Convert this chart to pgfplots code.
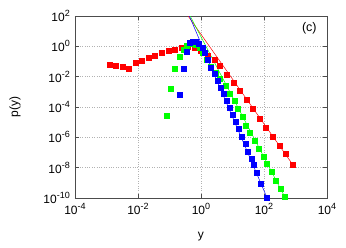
\documentclass[border=0pt]{standalone}
\usepackage{pgfplots}
\pgfplotsset{compat=1.18}
\usepackage{fontspec}
\setmainfont{Liberation Sans}
\newcommand\sep[1]{\raisebox{0.42em}{\fontsize{9}{10}\selectfont #1}}
\begin{document}
\fontsize{12}{14}\selectfont
\begin{tikzpicture}
\begin{axis}[
  scale only axis, width=252pt, height=182pt,
  xmode=log, ymode=log,
  xmin=1e-4, xmax=1e4, ymin=1e-10, ymax=1e2,
  xtick={1e-4,1e-2,1,1e2,1e4},
  xticklabels={10\sep{-4},10\sep{-2},10\sep{0},10\sep{2},10\sep{4}},
  ytick={1e-10,1e-8,1e-6,1e-4,1e-2,1,1e2},
  yticklabels={10\sep{-10},10\sep{-8},10\sep{-6},10\sep{-4},10\sep{-2},10\sep{0},10\sep{2}},
  minor xtick={}, minor ytick={},
  tick align=inside, major tick length=4pt,
  grid=major, major grid style={dotted, gray!60, line width=0.6pt},
  axis line style={black!70, line width=0.7pt}, every tick/.style={black!70, line width=0.6pt},
  xticklabel style={yshift=-1pt},
  yticklabel style={xshift=-1pt},
  xlabel={y}, ylabel={p(y)},
  xlabel style={at={(axis description cs:0.5,-0.21)}, anchor=center},
  ylabel style={at={(axis description cs:-0.238,0.5)}, anchor=center},
  clip=true,
]
% fitted power laws
\addplot[red, line width=0.5pt] coordinates {(0.389,100) (812.8,1.62e-8)};
\addplot[green, line width=0.5pt] coordinates {(0.452,100) (457.1,1.17e-10)};
\addplot[blue, line width=0.5pt] coordinates {(0.427,100) (123.0,1.12e-10)};
% red data
\addplot[only marks, mark=square*, mark size=2.5pt, red, mark options={draw=none, fill=red}] coordinates {
(1.23e-3,6.46e-2) (2.00e-3,5.01e-2) (3.16e-3,4.27e-2) (5.13e-3,3.31e-2)
(8.51e-3,8.71e-2) (1.35e-2,1.12e-1) (2.19e-2,1.78e-1) (3.47e-2,2.57e-1)
(5.62e-2,3.63e-1) (9.12e-2,5.13e-1) (1.48e-1,6.31e-1) (2.40e-1,7.94e-1)
(3.80e-1,8.91e-1) (6.17e-1,7.59e-1) (1.0,5.01e-1) (1.62,2.51e-1)
(2.63,1.26e-1) (4.07,5.01e-2) (6.76,1.41e-2) (10.96,4.17e-3)
(17.38,1.12e-3) (28.18,2.95e-4) (44.67,7.24e-5) (72.44,1.74e-5)
(114.8,4.47e-6) (190.5,1.10e-6) (309.0,3.02e-7) (501.2,7.76e-8) (812.8,1.62e-8)
};
% green data
\addplot[only marks, mark=square*, mark size=2.5pt, green, mark options={draw=none, fill=green}] coordinates {
(8.13e-2,2.63e-5) (1.12e-1,1.70e-3) (1.48e-1,3.16e-2) (2.04e-1,2.04e-1)
(2.75e-1,6.31e-1) (3.55e-1,1.12) (4.79e-1,1.41) (6.61e-1,1.32)
(8.91e-1,7.94e-1) (1.17,3.55e-1) (1.55,1.26e-1) (2.09,4.47e-2)
(2.88,1.78e-2) (3.98,6.92e-3) (6.03,2.40e-3) (8.32,7.94e-4)
(11.75,2.45e-4) (14.79,7.24e-5) (20.89,2.24e-5) (26.92,6.31e-6)
(36.31,1.95e-6) (50.12,6.46e-7) (67.61,1.82e-7) (95.50,5.13e-8)
(125.9,1.86e-8) (177.8,5.25e-9) (239.9,1.48e-9) (338.8,4.17e-10) (457.1,1.17e-10)
};
% blue data
\addplot[only marks, mark=square*, mark size=2.5pt, blue, mark options={draw=none, fill=blue}] coordinates {
(2.14e-1,6.03e-4) (2.75e-1,3.55e-2) (3.55e-1,4.47e-1) (4.37e-1,1.66)
(5.50e-1,2.14) (6.92e-1,2.14) (8.71e-1,1.51) (1.10,8.32e-1)
(1.32,3.55e-1) (1.62,1.26e-1) (2.09,4.17e-2) (2.63,1.48e-2)
(3.39,5.37e-3) (4.27,1.95e-3) (5.25,7.08e-4) (6.61,2.45e-4)
(8.13,8.71e-5) (10.23,3.02e-5) (12.88,1.05e-5) (15.85,3.47e-6)
(19.95,1.15e-6) (25.70,3.72e-7) (30.90,1.20e-7) (39.81,3.98e-8)
(47.86,1.62e-8) (58.88,4.79e-9) (79.43,8.91e-10) (123.0,1.12e-10)
};
\node[font=\fontsize{12.5}{14}\selectfont] at (rel axis cs:0.93,0.935) {(c)};
\end{axis}
\pgfresetboundingbox
\path ([shift={(-75pt,-49pt)}]current axis.south west) rectangle ([shift={(19pt,16pt)}]current axis.north east);
\end{tikzpicture}
\end{document}
